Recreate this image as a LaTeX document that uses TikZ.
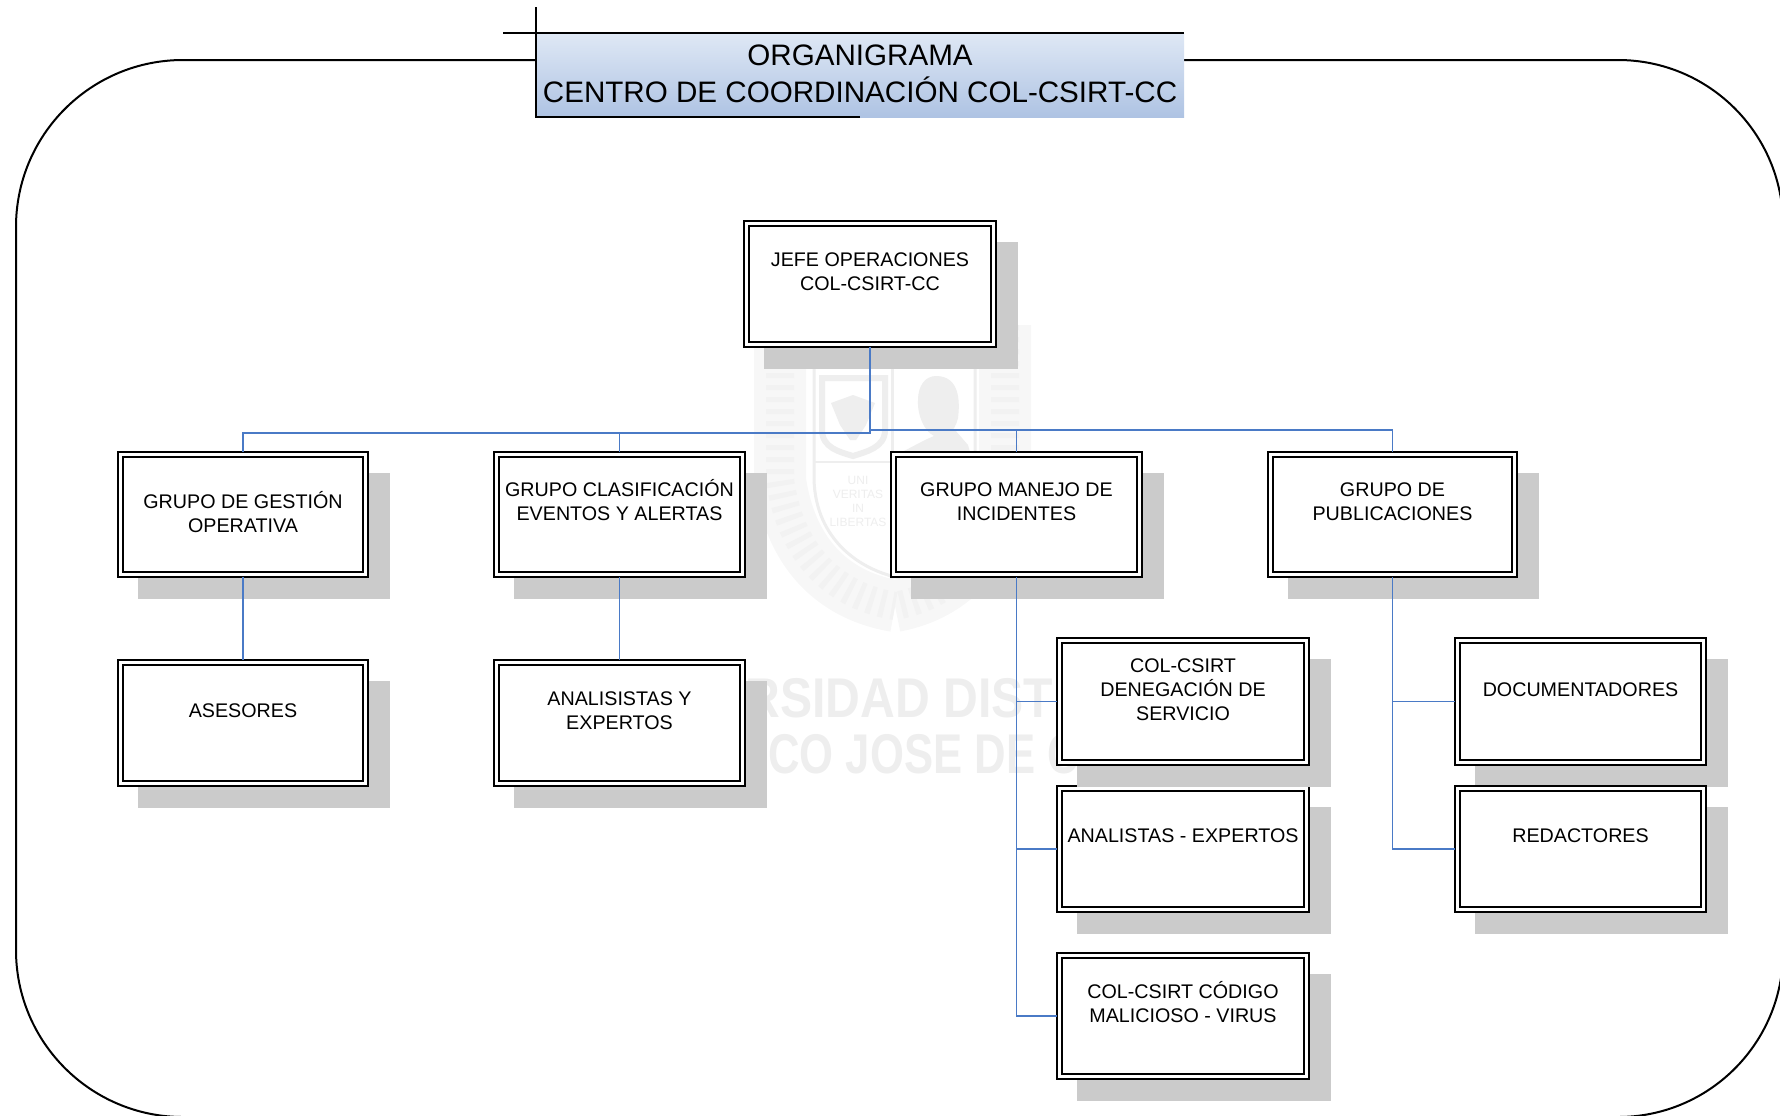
\documentclass[tikz,border=0pt]{standalone}
\usepackage{fontspec}
\setmainfont{Liberation Sans}
\newfontfamily\wmfont{Liberation Sans}
\definecolor{shadowc}{HTML}{CBCBCB}
\definecolor{connc}{HTML}{4A7AC6}
\definecolor{wmc}{HTML}{EEEEEE}
\definecolor{wmd}{HTML}{F2F2F2}
\definecolor{wmb}{HTML}{F7F7F7}
\definecolor{titletop}{HTML}{DFE8F5}
\definecolor{titlebot}{HTML}{AEC3E3}
\tikzset{
  orgouter/.style={draw=black,fill=white,line width=0.75pt,rectangle,inner sep=0pt,outer sep=0pt,
    font=\fontsize{9.85}{12}\selectfont},
  orginner/.style={draw=black,line width=0.85pt},
  orgshadow/.style={fill=shadowc,draw=none},
  conn/.style={draw=connc,line width=0.85pt},
  framel/.style={draw=black,line width=1pt},
  wmline/.style={draw=wmc,line width=1.2pt},
  wmfill/.style={fill=wmc,draw=none},
  wmtext/.style={text=wmc,font=\wmfont\bfseries\fontsize{28}{28}\selectfont,inner sep=0pt,anchor=base west}
}
\newcommand{\ol}[1]{\strut\smash{#1}}
% #1 name, #2 x1, #3 y1, #4 x2, #5 y2, #6 distance of first line from box top (pt), #7 text
\newcommand{\orgbox}[7]{%
  \fill[orgshadow] ({#2+20},{#3+20.5}) rectangle ({#4+22},{#5+22});
  \pgfmathsetmacro{\bw}{(#4-#2)/2}\pgfmathsetmacro{\bh}{(#5-#3)/2}%
  \node[orgouter] (#1) at ({(#2+#4)/2},{(#3+#5)/2})
    {\begin{minipage}[c][\bh pt][t]{\bw pt}\centering\vspace*{#6pt}#7\end{minipage}};
  \draw[orginner] ({#2+5},{#3+5}) rectangle ({#4-5},{#5-5});
}
\begin{document}
\begin{tikzpicture}[x=0.5pt,y=-0.5pt]
\useasboundingbox (0,0) rectangle (1780,1115);
\begin{scope}
\clip (0,0) rectangle (1780,1115);
% frame
\draw[framel] (536,60) -- (183,60) arc[start angle=-90,end angle=-180,radius=167]
  -- (16,950) arc[start angle=180,end angle=90,radius=167]
  -- (1618,1117) arc[start angle=90,end angle=0,radius=165]
  -- (1783,225) arc[start angle=0,end angle=-90,radius=165] -- (1184,60);
% watermark emblem
\draw[draw=wmb,line width=26pt] (780,325) -- (780,480) .. controls (790,550) and (830,595) .. (895,606);
\draw[draw=wmb,line width=26pt] (1005,325) -- (1005,480) .. controls (995,550) and (955,595) .. (895,606);
\draw[draw=wmd,line width=14pt,dash pattern=on 2.5pt off 3.5pt] (780,325) -- (780,480) .. controls (790,550) and (830,595) .. (895,606);
\draw[draw=wmd,line width=14pt,dash pattern=on 2.5pt off 3.5pt] (1005,325) -- (1005,480) .. controls (995,550) and (955,595) .. (895,606);
\fill[white] (812,368) rectangle (978,462);
\fill[white] (812,462) -- (978,462) -- (978,480) .. controls (973,540) and (930,570) .. (895,578) .. controls (860,570) and (816,540) .. (812,480) -- cycle;
\draw[wmline,line width=1.5pt] (814,368) -- (814,480) .. controls (816,540) and (860,570) .. (900,578);
\draw[wmline,line width=1.5pt] (892,368) -- (892,461);
\draw[wmline,line width=1.5pt] (975,368) -- (975,480) .. controls (973,540) and (930,570) .. (890,578);
\draw[wmline] (815,462) -- (975,462);
\draw[wmline,line width=3pt] (822,378) -- (885,378) -- (885,430) .. controls (885,448) and (865,452) .. (853,456) .. controls (840,452) and (822,448) .. (822,430) -- cycle;
\fill[wmfill] (853,395) -- (875,403) -- (866,425) -- (856,440) -- (850,440) -- (840,425) -- (831,403) -- cycle;
\fill[wmfill] (936,376) .. controls (960,376) and (960,402) .. (958,418) .. controls (955,432) and (945,438) .. (940,438) .. controls (925,436) and (917,415) .. (918,400) .. controls (918,386) and (925,376) .. (936,376) -- cycle;
\fill[wmfill] (934,436) -- (955,430) -- (968,445) -- (970,452) -- (902,452) -- (925,440) -- cycle;
\node[text=wmc,font=\fontsize{6}{7}\selectfont,align=center,inner sep=0pt] (lema) at (858,501) {UNI\\VERITAS\\IN\\LIBERTAS};
\node[wmtext,xscale=0.86] (wma) at (745,717) {RSIDAD DIST};
\node[wmtext,xscale=0.78] (wmb) at (768,773) {CO JOSE DE C};
% boxes
\orgbox{jefe}{744}{221}{996}{347}{14.5}{\ol{JEFE OPERACIONES}\\\ol{COL-CSIRT-CC}}
\orgbox{gestion}{118}{452}{368}{577}{20}{\ol{GRUPO DE GESTIÓN}\\\ol{OPERATIVA}}
\orgbox{clasif}{494}{452}{745}{577}{13.7}{\ol{GRUPO CLASIFICACIÓN}\\\ol{EVENTOS Y ALERTAS}}
\orgbox{manejo}{891}{452}{1142}{577}{13.7}{\ol{GRUPO MANEJO DE}\\\ol{INCIDENTES}}
\orgbox{publ}{1268}{452}{1517}{577}{13.7}{\ol{GRUPO DE}\\\ol{PUBLICACIONES}}
\orgbox{asesores}{118}{660}{368}{786}{20.5}{\ol{ASESORES}}
\orgbox{analisis}{494}{660}{745}{786}{14.2}{\ol{ANALISISTAS Y}\\\ol{EXPERTOS}}
\orgbox{analistas}{1057}{786}{1309}{912}{20}{\ol{ANALISTAS - EXPERTOS}}
\orgbox{deneg}{1057}{638}{1309}{765}{9}{\ol{COL-CSIRT}\\\ol{DENEGACIÓN DE}\\\ol{SERVICIO}}
\orgbox{codigo}{1057}{953}{1309}{1079}{14.5}{\ol{COL-CSIRT CÓDIGO}\\\ol{MALICIOSO - VIRUS}}
\orgbox{docu}{1455}{638}{1706}{765}{21}{\ol{DOCUMENTADORES}}
\orgbox{redac}{1455}{786}{1706}{912}{20}{\ol{REDACTORES}}
% connectors
\coordinate (busL) at (870,433);
\coordinate (busR) at (870,430);
\draw[conn] (jefe.south) -- (busL) -| (gestion.north);
\draw[conn] (busL) -| (clasif.north);
\draw[conn] (jefe.south) -- (busR) -| (manejo.north);
\draw[conn] (busR) -| (publ.north);
\draw[conn] (gestion.south) -- (asesores.north);
\draw[conn] (clasif.south) -- (analisis.north);
\draw[conn] (manejo.south) |- (deneg.west);
\draw[conn] (manejo.south) |- (analistas.west);
\draw[conn] (manejo.south) |- (codigo.west);
\draw[conn] (publ.south) |- (docu.west);
\draw[conn] (publ.south) |- (redac.west);
% title
\shade[top color=titletop,bottom color=titlebot] (536,33) rectangle (1184,117);
\coordinate (tA) at (503,33);
\coordinate (tB) at (1184,33);
\coordinate (tC) at (536,7);
\coordinate (tD) at (536,117);
\coordinate (tE) at (860,117);
\draw[framel] (tA) -- (tB);
\draw[framel] (tC) -- (tD) -- (tE);
\node[inner sep=0pt,align=center,font=\fontsize{14.8}{18.3}\selectfont] (titulo) at (860,74)
  {ORGANIGRAMA\\CENTRO DE COORDINACIÓN COL-CSIRT-CC};
\end{scope}
\end{tikzpicture}
\end{document}
